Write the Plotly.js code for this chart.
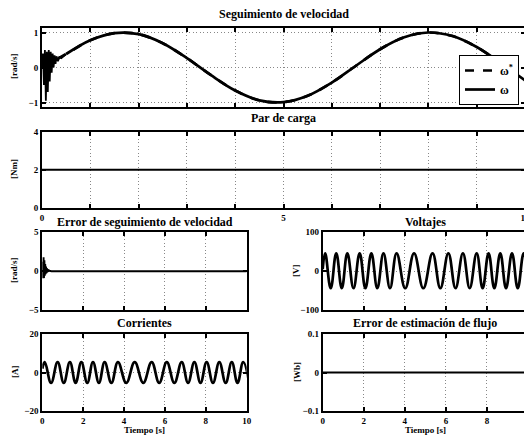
<!DOCTYPE html>
<html><head><meta charset="utf-8">
<script src="https://cdn.plot.ly/plotly-3.0.1.min.js"></script>
<style>html,body{margin:0;padding:0;overflow:hidden;background:#fff}#chart{width:530px;height:436px}</style>
</head><body><div id="chart"></div>
<script>
// ---------- data ----------
// speed reference ω* [rad/s]
const tRef = [0,0.5,1,1.5,2,2.5,3,3.5,4,4.5,5,5.5,6,6.5,7,7.5,8,8.5,9,9.5,10];
const wRef = [0,0.386,0.778,0.983,0.952,0.694,0.268,-0.221,-0.658,-0.938,-0.991,-0.808,-0.432,0.05,0.522,0.863,1.0,0.898,0.585,0.126,-0.368];
// measured speed ω: start-up transient, then tracking
const tW0 = [0,0.02,0.04,0.06,0.08,0.10,0.12,0.14,0.16,0.18,0.20,0.22,0.24,0.26,0.28,0.30,0.33,0.36,0.40,0.45,0.5];
const wW0 = [0,0.4,-0.5,0.5,-0.95,0.45,-0.7,0.5,-0.4,0.45,-0.15,0.4,0.0,0.35,0.1,0.32,0.18,0.3,0.27,0.33,0.386];
const tW = [0.5,1,1.5,2,2.5,3,3.5,4,4.5,5,5.5,6,6.5,7,7.5,8,8.5,9,9.5,10];
const wMeas = [0.386,0.778,0.983,0.952,0.694,0.268,-0.221,-0.658,-0.938,-0.991,-0.808,-0.432,0.05,0.522,0.863,1.0,0.898,0.585,0.126,-0.368];
// load torque [Nm]
const tLoad = [0,10];
const load = [2,2];
// speed tracking error [rad/s]
const tErr = [0,0.02,0.04,0.06,0.08,0.10,0.12,0.14,0.16,0.18,0.20,0.22,0.24,0.26,0.28,0.30,0.33,0.36,0.40,0.45,0.5,10];
const err = [0,1.2,-0.9,1.8,-0.9,1.4,-0.6,0.9,-0.4,0.6,-0.25,0.4,-0.15,0.25,-0.08,0.12,0.05,0.03,0.01,0,0,0];
// voltage [V]: peaks and troughs
const tVolt = [0,0.12,0.39,0.66,0.93,1.2,1.5,1.8,2.08,2.37,2.66,2.96,3.28,3.6,4.02,4.45,4.9,5.35,5.73,6.12,6.47,6.83,7.16,7.5,7.79,8.08,8.36,8.65,8.93,9.22,9.5,9.79,10.07];
const volt = [5,46,-44,46,-44,46,-44,46,-44,46,-44,46,-44,46,-44,46,-44,46,-44,46,-44,46,-44,46,-44,46,-44,46,-44,46,-44,46,-44];
// current [A]: peaks and troughs
const tCurr = [0,0.12,0.43,0.75,1.05,1.35,1.63,1.91,2.2,2.48,2.77,3.05,3.38,3.7,4.11,4.52,4.94,5.35,5.72,6.09,6.46,6.82,7.13,7.44,7.74,8.04,8.35,8.66,8.97,9.27,9.55,9.83,10.12];
const curr = [2,5.4,-5.4,5.4,-5.4,5.4,-5.4,5.4,-5.4,5.4,-5.4,5.4,-5.4,5.4,-5.4,5.4,-5.4,5.4,-5.4,5.4,-5.4,5.4,-5.4,5.4,-5.4,5.4,-5.4,5.4,-5.4,5.4,-5.4,5.4,-5.4];
// flux estimation error [Wb]
const tFlux = [0,10];
const flux = [0,0];

const titles = ['Seguimiento de velocidad','Par de carga','Error de seguimiento de velocidad','Voltajes','Corrientes','Error de estimación de flujo'];
const yLabels = ['[rad/s]','[Nm]','[rad/s]','[V]','[A]','[Wb]'];
const xLabel = 'Tiempo [s]';

// ---------- layout ----------
const W = 530, H = 436;
const FONT = 'Liberation Serif';
const fx = p => p / W, fy = p => 1 - p / H;

function ax(extra){
  return Object.assign({
    showline:true, linecolor:'#000', linewidth:2, mirror:'ticks',
    ticks:'inside', ticklen:4, tickwidth:2, tickcolor:'#000',
    showgrid:true, gridcolor:'#888', griddash:'1px,2.5px', gridwidth:1,
    zeroline:false, fixedrange:true,
    tickfont:{family:FONT, size:9, color:'#000', weight:700}
  }, extra);
}
const ints = [0,1,2,3,4,5,6,7,8,9,10];
const evens = [0,2,4,6,8,10];
const blank = n => Array(n).fill('');

const LW = 2.7;
const traces = [
  {x:tRef, y:wRef, xaxis:'x', yaxis:'y', mode:'lines', name:'<b>ω<sup>*</sup></b>', line:{color:'#000', width:LW, dash:'dash', shape:'spline'}},
  {x:tW0, y:wW0, xaxis:'x', yaxis:'y', mode:'lines', showlegend:false, line:{color:'#000', width:1.8}},
  {x:tW, y:wMeas, xaxis:'x', yaxis:'y', mode:'lines', name:'<b>ω</b>', line:{color:'#000', width:LW, shape:'spline'}},
  {x:tLoad, y:load, xaxis:'x2', yaxis:'y2', mode:'lines', showlegend:false, line:{color:'#000', width:2}},
  {x:tErr, y:err, xaxis:'x3', yaxis:'y3', mode:'lines', showlegend:false, line:{color:'#000', width:2}},
  {x:tVolt, y:volt, xaxis:'x4', yaxis:'y4', mode:'lines', showlegend:false, line:{color:'#000', width:LW, shape:'spline', smoothing:1.2}},
  {x:tCurr, y:curr, xaxis:'x5', yaxis:'y5', mode:'lines', showlegend:false, line:{color:'#000', width:LW, shape:'spline', smoothing:1.2}},
  {x:tFlux, y:flux, xaxis:'x6', yaxis:'y6', mode:'lines', showlegend:false, line:{color:'#000', width:2.2}}
];

const L = [42, 525], LB = [42.3, 246.7], RB = [322.7, 528];
const layout = {
  width:W, height:H, margin:{l:0,r:0,t:0,b:0},
  paper_bgcolor:'#fff', plot_bgcolor:'#fff', showlegend:true,
  font:{family:FONT, color:'#000'},
  xaxis: ax({domain:[fx(L[0]),fx(L[1])], range:[0,10], tickvals:ints, ticktext:blank(11), anchor:'y'}),
  yaxis: ax({domain:[fy(106.7),fy(28.3)], range:[-1.12,1.12], tickvals:[-1,0,1], anchor:'x'}),
  xaxis2: ax({domain:[fx(L[0]),fx(L[1])], range:[0,10], tickvals:ints, ticktext:['0','','','','','5','','','','','10'], anchor:'y2'}),
  yaxis2: ax({domain:[fy(208),fy(131.7)], range:[0,4], tickvals:[0,2,4], anchor:'x2'}),
  xaxis3: ax({domain:[fx(LB[0]),fx(LB[1])], range:[0,10], tickvals:evens, ticktext:blank(6), anchor:'y3'}),
  yaxis3: ax({domain:[fy(310),fy(232.3)], range:[-5,5], tickvals:[-5,0,5], anchor:'x3'}),
  xaxis4: ax({domain:[fx(RB[0]),fx(RB[1])], range:[0,10], tickvals:evens, ticktext:blank(6), anchor:'y4'}),
  yaxis4: ax({domain:[fy(310),fy(232.3)], range:[-100,100], tickvals:[-100,0,100], anchor:'x4'}),
  xaxis5: ax({domain:[fx(LB[0]),fx(LB[1])], range:[0,10], tickvals:evens, anchor:'y5'}),
  yaxis5: ax({domain:[fy(411),fy(334)], range:[-20,20], tickvals:[-20,0,20], anchor:'x5'}),
  xaxis6: ax({domain:[fx(RB[0]),fx(RB[1])], range:[0,10], tickvals:evens, anchor:'y6'}),
  yaxis6: ax({domain:[fy(411),fy(334)], range:[-0.1,0.1], tickvals:[-0.1,0,0.1], anchor:'x6'}),
  legend:{x:fx(459), y:fy(55), xanchor:'left', yanchor:'top', bgcolor:'#fff', bordercolor:'#000', borderwidth:1,
          font:{family:FONT, size:12, color:'#000', weight:700}},
  annotations:[]
};

const titlePos = [[283.5,14],[283.5,118],[144.5,222],[425,222],[144.5,323],[425,323]];
titles.forEach((t,i)=>layout.annotations.push({text:'<b>'+t+'</b>', xref:'paper', yref:'paper', x:fx(titlePos[i][0]), y:fy(titlePos[i][1]), xanchor:'center', yanchor:'middle', showarrow:false, font:{family:FONT, size:12, color:'#000'}}));
const ylPos = [[14,66],[14,169],[14,270],[296,271],[15,372],[297,372]];
yLabels.forEach((t,i)=>layout.annotations.push({text:'<b>'+t+'</b>', xref:'paper', yref:'paper', x:fx(ylPos[i][0]), y:fy(ylPos[i][1]), xanchor:'center', yanchor:'middle', textangle:-90, showarrow:false, font:{family:FONT, size:9, color:'#000'}}));
[[144.5,430],[425,430]].forEach(p=>layout.annotations.push({text:'<b>'+xLabel+'</b>', xref:'paper', yref:'paper', x:fx(p[0]), y:fy(p[1]), xanchor:'center', yanchor:'middle', showarrow:false, font:{family:FONT, size:9, color:'#000'}}));

Plotly.newPlot('chart', traces, layout, {staticPlot:true, displayModeBar:false});
</script></body></html>
